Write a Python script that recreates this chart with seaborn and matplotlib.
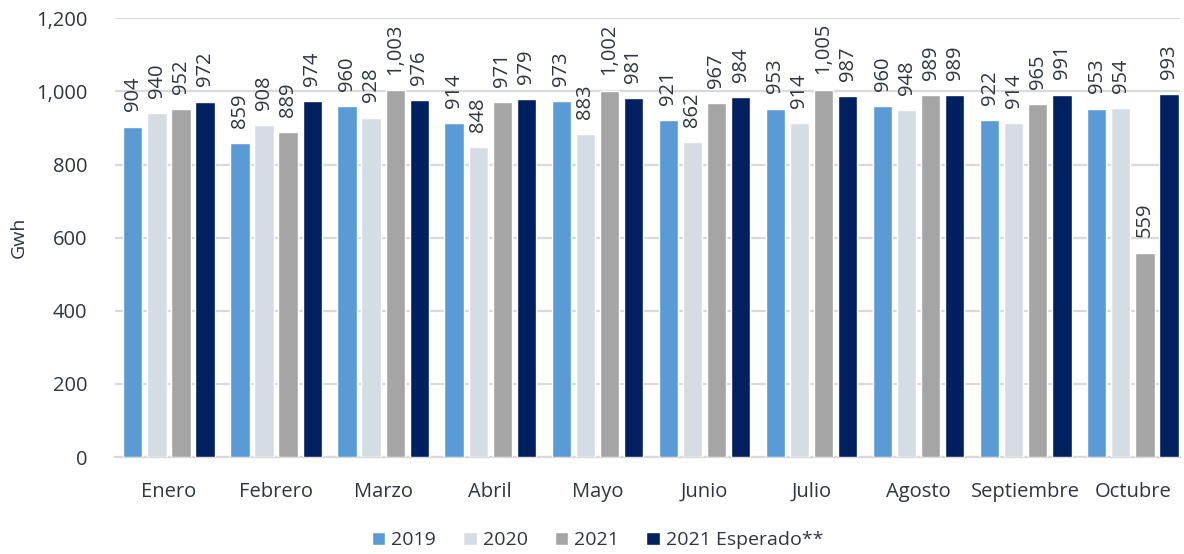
import pandas as pd
import matplotlib.pyplot as plt
import seaborn as sns
from matplotlib.ticker import FuncFormatter

months = ['Enero', 'Febrero', 'Marzo', 'Abril', 'Mayo', 'Junio', 'Julio',
          'Agosto', 'Septiembre', 'Octubre']
series = ['2019', '2020', '2021', '2021 Esperado**']
v2019 = [904, 859, 960, 914, 973, 921, 953, 960, 922, 953]
v2020 = [940, 908, 928, 848, 883, 862, 914, 948, 914, 954]
v2021 = [952, 889, 1003, 971, 1002, 967, 1005, 989, 965, 559]
vesp = [972, 974, 976, 979, 981, 984, 987, 989, 991, 993]
colors = ['#5b9bd5', '#d6dce4', '#a5a5a5', '#002060']

rows = []
for s, vals in zip(series, [v2019, v2020, v2021, vesp]):
    for m, v in zip(months, vals):
        rows.append({'Mes': m, 'Serie': s, 'Gwh': v})
df = pd.DataFrame(rows)

sns.set_style('white')
plt.rcParams['font.family'] = ['Open Sans', 'DejaVu Sans']
text_c = '#2e3540'
grid_c = '#d9d9d9'

fig = plt.figure(figsize=(11.84, 5.54), dpi=100)
ax = fig.add_axes([0.0971, 0.175, 0.8995, 0.792])

sns.barplot(data=df, x='Mes', y='Gwh', hue='Serie', palette=colors,
            width=0.9, gap=0.2, saturation=1, ax=ax, zorder=3)

for cont in ax.containers:
    labels = [f'{int(v):,}' for v in cont.datavalues]
    ax.bar_label(cont, labels=labels, rotation=90, padding=11,
                 fontsize=14.5, color=text_c)

ax.set_ylim(0, 1200)
ax.set_yticks(range(0, 1201, 200))
ax.yaxis.set_major_formatter(FuncFormatter(lambda v, p: f'{int(v):,}'))
ax.grid(axis='y', color=grid_c, linewidth=1.6, zorder=0)
ax.set_xlim(-0.504, 9.44)
for side in ['left', 'right', 'top']:
    ax.spines[side].set_visible(False)
ax.spines['bottom'].set_color(grid_c)
ax.spines['bottom'].set_linewidth(1.6)
ax.tick_params(axis='both', length=0, labelsize=14.5, colors=text_c)
ax.tick_params(axis='x', pad=18)
ax.tick_params(axis='y', pad=20)
ax.set_xlabel('')
ax.set_ylabel('Gwh', fontsize=14, color=text_c, labelpad=6)

ax.legend(loc='center', bbox_to_anchor=(0.453, -0.19), ncol=4,
          frameon=False, fontsize=14, handlelength=0.7, handleheight=0.7,
          handletextpad=0.3, columnspacing=1.4, labelcolor=text_c)

fig.savefig('out.png', dpi=100)
